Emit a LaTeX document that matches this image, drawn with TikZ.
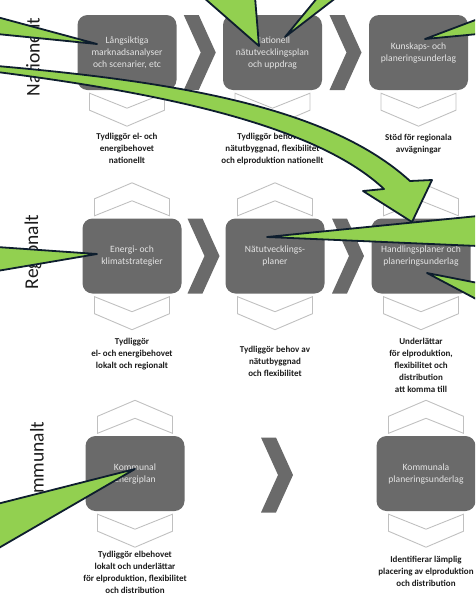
\documentclass[tikz,border=0pt]{standalone}
\usepackage{fontspec}
\setmainfont{Carlito}
\definecolor{StageGray}{RGB}{106,106,106}
\definecolor{StageText}{RGB}{228,228,228}
\definecolor{HintGray}{RGB}{192,192,192}
\definecolor{NoteDark}{RGB}{28,28,28}
\definecolor{CalloutGreen}{RGB}{146,208,80}
\definecolor{CalloutEdge}{RGB}{14,30,46}
\usetikzlibrary{positioning,calc}

\tikzset{
  stage/.style={rectangle, fill=StageGray, rounded corners=10pt, minimum width=99pt,
                minimum height=75pt, inner sep=2pt, align=center, text=StageText,
                font=\fontsize{9.6}{12}\selectfont},
  note/.style={inner sep=0pt, align=center, text=NoteDark, font=\fontsize{9}{12}\selectfont\bfseries},
  level/.style={rotate=90, inner sep=0pt, text=NoteDark, font=\fontsize{19.5}{19.5}\selectfont},
  callout/.style={fill=CalloutGreen, draw=CalloutEdge, line width=1.8pt, line join=round},
  flowchev/.pic={\fill[StageGray] (-16,-37.5) -- (-1,-37.5) -- (16,0) -- (-1,37.5) -- (-16,37.5) -- (1,0) -- cycle;},
  downchev/.pic={\draw[HintGray, line width=0.9pt] (-37.5,-16.5) -- (0,-1.5) -- (37.5,-16.5) -- (37.5,0.5) -- (0,16.5) -- (-37.5,0.5) -- cycle;},
  upchev/.pic={\draw[HintGray, line width=0.9pt] (-37.5,16.5) -- (0,1.5) -- (37.5,16.5) -- (37.5,-0.5) -- (0,-16.5) -- (-37.5,-0.5) -- cycle;}
}

\begin{document}
\begin{tikzpicture}[x=1pt, y=-1pt]
  \useasboundingbox (0,0) rectangle (475,606);
  \clip (0,0) rectangle (475,606);

  \node[stage] (analys) at (127,52.5) {Långsiktiga\\marknadsanalyser\\och scenarier, etc};
  \node[stage] (natplan) at (272.5,52.5) {Nationell\\nätutvecklingsplan\\och uppdrag};
  \node[stage] (kunskap) at (418.5,52.5) {Kunskaps- och\\planeringsunderlag};
  \node[stage] (klimat) at (132,256) {Energi- och\\klimatstrategier};
  \node[stage] (regnat) at (275,256) {Nätutvecklings-\\planer};
  \node[stage] (handling) at (421,256) {Handlingsplaner och\\planeringsunderlag};
  \node[stage] (energiplan) at (135,473.5) {Kommunal\\energiplan};
  \node[stage] (kommunund) at (426,473.5) {Kommunala\\planeringsunderlag};

  \pic at ($(analys.east)!0.5!(natplan.west)$) {flowchev};
  \pic at ($(natplan.east)!0.5!(kunskap.west)$) {flowchev};
  \pic at ($(klimat.east)!0.5!(regnat.west)$) {flowchev};
  \pic at ($(regnat.east)!0.5!(handling.west)$) {flowchev};
  \pic at (277,475) {flowchev};

  \foreach \n in {analys,natplan,kunskap,klimat,regnat,handling,energiplan,kommunund}
    \pic at ($(\n.south)+(0,19.5)$) {downchev};
  \foreach \n in {klimat,regnat,handling,energiplan,kommunund}
    \pic at ($(\n.north)+(0,-19)$) {upchev};

  \node[note, below=43pt of analys] (analysnote) {Tydliggör el- och\\energibehovet\\nationellt};
  \node[note, below=43pt of natplan] (natplannote) {Tydliggör behov av\\nätutbyggnad, flexibilitet\\och elproduktion nationellt};
  \node[note, below=44pt of kunskap] (kunskapnote) {Stöd för regionala\\avvägningar};
  \node[note, below=44pt of klimat] (klimatnote) {Tydliggör\\el- och energibehovet\\lokalt och regionalt};
  \node[note, below=52pt of regnat] (regnatnote) {Tydliggör behov av\\nätutbyggnad\\och flexibilitet};
  \node[note, below=44pt of handling] (handlingnote) {Underlättar\\för elproduktion,\\flexibilitet och\\distribution\\att komma till};
  \node[note, below=40pt of energiplan] (energiplannote) {Tydliggör elbehovet\\lokalt och underlättar\\för elproduktion, flexibilitet\\och distribution};
  \node[note, below=45pt of kommunund] (kommunundnote) {Identifierar lämplig\\placering av elproduktion\\och distribution};

  \node[level] (natlabel) at (33,57) {Nationellt};
  \node[level] (reglabel) at (33,252) {Regionalt};
  \node[level] (komlabel) at (37,468) {Kommunalt};

  \coordinate (bendstart) at (-3,66);
  \coordinate (bendend) at (-3,72);
  \draw[callout] (bendstart) .. controls (180,82) and (330,108) .. (410,181) -- (432,180)
    -- ([shift={(-9,-34)}]handling.center) -- (363,191) -- (384,189)
    .. controls (318,127) and (170,94) .. (bendend) -- cycle;

  \coordinate (w1a) at (-3,17);  \coordinate (w1b) at (-3,34);
  \coordinate (w2a) at (203,-3); \coordinate (w2b) at (255,-3);
  \coordinate (w3a) at (318,-3); \coordinate (w3b) at (337,-3);
  \coordinate (w4a) at (478,19); \coordinate (w4b) at (478,34);
  \coordinate (w5a) at (-3,247); \coordinate (w5b) at (-3,271);
  \coordinate (w6a) at (478,216); \coordinate (w6b) at (478,246);
  \coordinate (w7a) at (478,283); \coordinate (w7b) at (478,300);
  \coordinate (w8a) at (-3,504); \coordinate (w8b) at (-3,549);

  \draw[callout] (w1a) -- ([shift={(-30,-8.5)}]analys.center) -- (w1b) -- cycle;
  \draw[callout] (w2a) -- ([shift={(-13.5,-6.5)}]natplan.center) -- (w2b) -- cycle;
  \draw[callout] (w3a) -- ([shift={(12.5,-15.5)}]natplan.center) -- (w3b) -- cycle;
  \draw[callout] (w4a) -- ([shift={(6.5,-13.5)}]kunskap.center) -- (w4b) -- cycle;
  \draw[callout] (w5a) -- ([shift={(-35,-2)}]klimat.center) -- (w5b) -- cycle;
  \draw[callout] (w6a) -- ([shift={(-8,-19)}]regnat.center) -- (w6b) -- cycle;
  \draw[callout] (w7a) -- ([shift={(6,17)}]handling.center) -- (w7b) -- cycle;
  \draw[callout] (w8a) -- ([shift={(0,-4.5)}]energiplan.center) -- (w8b) -- cycle;
\end{tikzpicture}
\end{document}
